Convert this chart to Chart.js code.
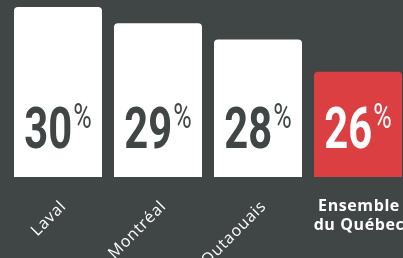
<!DOCTYPE html>
<html>
<head>
<meta charset="utf-8">
<script src="https://cdn.jsdelivr.net/npm/chart.js@4/dist/chart.umd.min.js"></script>
<style>
  html, body { margin: 0; padding: 0; background: #404545; overflow: hidden; }
  #wrap { position: relative; width: 412px; height: 258px; }
</style>
</head>
<body>
<div id="wrap"><canvas id="chart"></canvas></div>
<script>
// data
const categories = ['Laval', 'Montréal', 'Outaouais', ['Ensemble', 'du Québec']];
const values = [30, 29, 28, 26];
const barColors = ['#ffffff', '#ffffff', '#ffffff', '#dc3f42'];
const numberColors = ['#404545', '#404545', '#404545', '#ffffff'];

// big numbers inside the bars, digits + small raised %
const valueLabels = {
    id: 'valueLabels',
    afterDatasetsDraw(chart) {
        const ctx = chart.ctx;
        const meta = chart.getDatasetMeta(0);
        const baseY = chart.chartArea.bottom - 29;
        const sx = 0.72;
        meta.data.forEach((bar, i) => {
            const num = String(values[i]);
            ctx.save();
            ctx.font = 'bold 58px Roboto';
            const wNum = ctx.measureText(num).width * sx;
            ctx.font = '35px Roboto';
            const wPct = ctx.measureText('%').width * sx;
            const left = bar.x - (wNum + wPct + 1) / 2;
            ctx.fillStyle = numberColors[i];
            ctx.textBaseline = 'alphabetic';
            ctx.textAlign = 'left';
            ctx.translate(left, baseY);
            ctx.scale(sx, 1);
            ctx.font = 'bold 58px Roboto';
            ctx.fillText(num, 0, 0);
            ctx.font = '35px Roboto';
            ctx.fillText('%', (wNum + 1) / sx, -20);
            ctx.restore();
        });
    }
};

// category labels under the bars
const categoryLabels = {
    id: 'categoryLabels',
    afterDraw(chart) {
        const ctx = chart.ctx;
        const xScale = chart.scales.x;
        ctx.save();
        ctx.fillStyle = '#ffffff';
        categories.forEach((cat, i) => {
            const x = xScale.getPixelForValue(i);
            if (Array.isArray(cat)) {
                ctx.font = 'bold 16px "Open Sans"';
                ctx.letterSpacing = '0.6px';
                ctx.textAlign = 'center';
                ctx.textBaseline = 'alphabetic';
                cat.forEach((line, j) => ctx.fillText(line, x + 1, 211 + j * 19));
            } else {
                ctx.save();
                ctx.translate(x + 9, 207);
                ctx.rotate(-Math.PI / 4);
                ctx.font = '16px "Open Sans"';
                ctx.letterSpacing = '0.8px';
                ctx.textAlign = 'right';
                ctx.textBaseline = 'alphabetic';
                ctx.fillText(cat, 0, 0);
                ctx.restore();
            }
        });
        ctx.restore();
    }
};

new Chart(document.getElementById('chart'), {
    type: 'bar',
    data: {
        labels: categories,
        datasets: [{
            data: values,
            backgroundColor: barColors,
            borderRadius: 4,
            borderSkipped: false,
            barPercentage: 0.88,
            categoryPercentage: 1.0
        }]
    },
    options: {
        responsive: true,
        maintainAspectRatio: false,
        animation: false,
        layout: { padding: { left: 8, right: 4, top: 7, bottom: 81 } },
        plugins: {
            legend: { display: false },
            tooltip: { enabled: false }
        },
        scales: {
            x: { display: false },
            y: { display: false, min: 19.5, max: 30 }
        }
    },
    plugins: [valueLabels, categoryLabels]
});
</script>
</body>
</html>
